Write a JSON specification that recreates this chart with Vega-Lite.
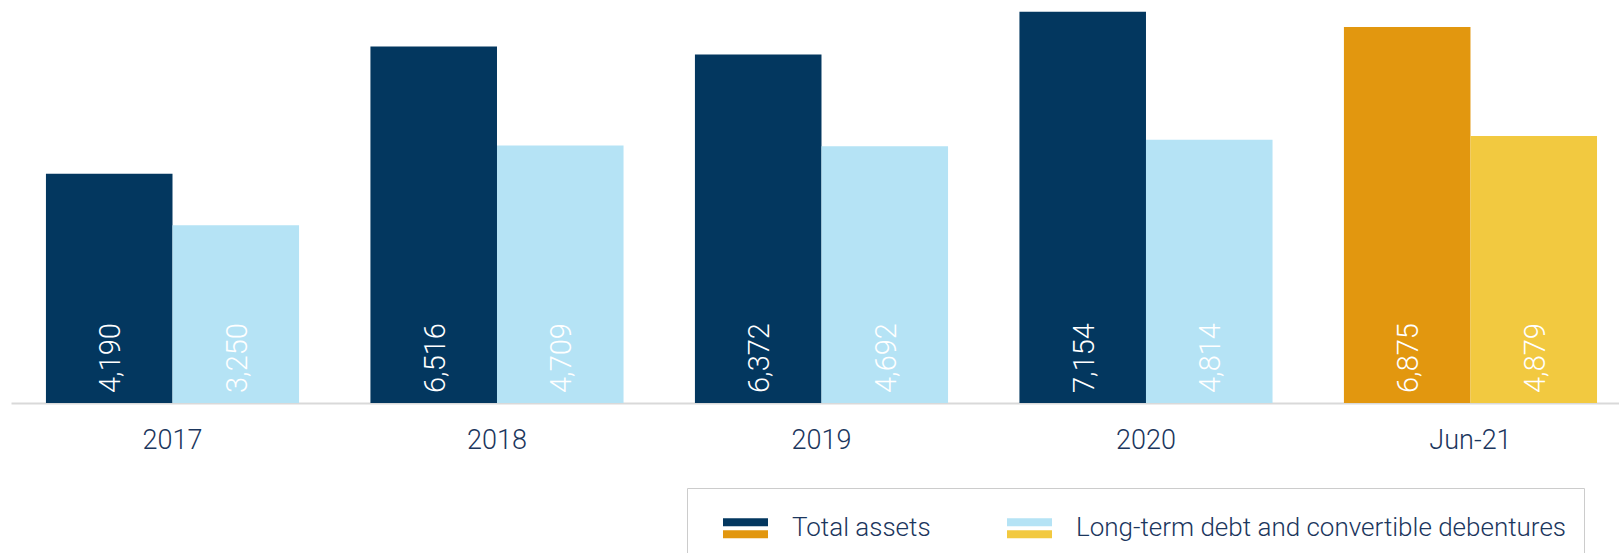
{
  "$schema": "https://vega.github.io/schema/vega-lite/v6.json",
  "width": 1608,
  "height": 403,
  "autosize": {"type": "none"},
  "padding": {"left": 11, "top": 0, "right": 0, "bottom": 150},
  "background": "white",
  "config": {"view": {"stroke": null}},
  "data": {
    "values": [
      {"period": "2017", "series": "a", "key": "Total assets", "value": 4190},
      {"period": "2017", "series": "b", "key": "Long-term debt and convertible debentures", "value": 3250},
      {"period": "2018", "series": "a", "key": "Total assets", "value": 6516},
      {"period": "2018", "series": "b", "key": "Long-term debt and convertible debentures", "value": 4709},
      {"period": "2019", "series": "a", "key": "Total assets", "value": 6372},
      {"period": "2019", "series": "b", "key": "Long-term debt and convertible debentures", "value": 4692},
      {"period": "2020", "series": "a", "key": "Total assets", "value": 7154},
      {"period": "2020", "series": "b", "key": "Long-term debt and convertible debentures", "value": 4814},
      {"period": "Jun-21", "series": "a", "key": "Total assets", "value": 6875},
      {"period": "Jun-21", "series": "b", "key": "Long-term debt and convertible debentures", "value": 4879}
    ]
  },
  "encoding": {
    "x": {
      "field": "period",
      "type": "nominal",
      "sort": null,
      "scale": {"paddingInner": 0.22, "paddingOuter": 0.0877, "align": 0.614},
      "axis": {
        "title": null,
        "labelAngle": 0,
        "ticks": false,
        "grid": false,
        "domainColor": "#d9d9d9",
        "domainWidth": 2,
        "labelFont": "Roboto",
        "labelFontWeight": 300,
        "labelFontSize": 27,
        "labelColor": "#1B365D",
        "labelPadding": 24
      }
    },
    "xOffset": {"field": "series", "type": "nominal", "scale": {"paddingInner": 0, "paddingOuter": 0}},
    "y": {"field": "value", "type": "quantitative", "scale": {"domain": [0, 7367], "nice": false, "zero": true}, "axis": null}
  },
  "layer": [
    {
      "transform": [{"filter": "datum.period !== 'Jun-21'"}],
      "mark": {"type": "bar"},
      "encoding": {
        "color": {
          "field": "key",
          "type": "nominal",
          "scale": {
            "domain": ["Total assets", "Long-term debt and convertible debentures"],
            "range": ["#03375F", "#B5E3F5"]
          },
          "legend": {
            "title": null,
            "orient": "none",
            "direction": "horizontal",
            "legendX": 676,
            "legendY": 488,
            "padding": 17.5,
            "columnPadding": 57,
            "fillColor": "white",
            "strokeColor": "#cccccc",
            "symbolType": "M-1,-0.444H1V-0.089H-1Z",
            "symbolSize": 2025,
            "symbolStrokeWidth": 0,
            "symbolOpacity": 1,
            "symbolOffset": 18.5,
            "labelOffset": 24,
            "labelFont": "Roboto",
            "labelFontWeight": 300,
            "labelFontSize": 26,
            "labelColor": "#1B365D",
            "labelLimit": 800
          }
        }
      }
    },
    {
      "transform": [{"filter": "datum.period === 'Jun-21'"}],
      "mark": {"type": "bar"},
      "encoding": {
        "fill": {
          "field": "key",
          "type": "nominal",
          "sort": "descending",
          "scale": {"range": ["#E2970F", "#F2C940"]},
          "legend": {
            "title": null,
            "orient": "none",
            "direction": "horizontal",
            "legendX": 676,
            "legendY": 488,
            "padding": 17.5,
            "columnPadding": 57,
            "symbolType": "M-1,0.089H1V0.444H-1Z",
            "symbolSize": 2025,
            "symbolStrokeWidth": 0,
            "symbolOpacity": 1,
            "symbolOffset": 18.5,
            "labelOffset": 24,
            "labelFont": "Roboto",
            "labelFontWeight": 300,
            "labelFontSize": 26,
            "labelColor": "#1B365D",
            "labelOpacity": 0,
            "labelLimit": 800
          }
        }
      }
    },
    {
      "mark": {
        "type": "text",
        "angle": 270,
        "align": "left",
        "baseline": "middle",
        "dx": 10,
        "dy": 2,
        "font": "Roboto",
        "fontWeight": 300,
        "fontSize": 29,
        "color": "white"
      },
      "encoding": {
        "y": {"datum": 0, "type": "quantitative"},
        "text": {"field": "value", "type": "quantitative", "format": ","}
      }
    }
  ]
}
